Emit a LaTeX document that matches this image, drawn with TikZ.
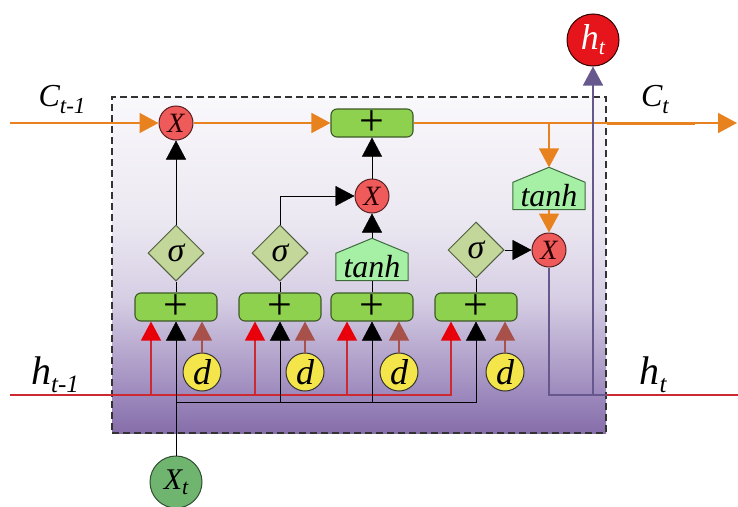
\documentclass[tikz,border=0pt]{standalone}
\usepackage{fontspec}
\setmainfont{Liberation Serif}
\usetikzlibrary{arrows.meta,shapes.geometric}

\pgfdeclarelayer{back}
\pgfdeclarelayer{mid}
\pgfsetlayers{back,mid,main}

\definecolor{flowor}{HTML}{E8821E}
\definecolor{hline}{HTML}{CC2A30}
\definecolor{hred}{HTML}{E8000A}
\definecolor{dbrown}{HTML}{A8504A}
\definecolor{outpur}{HTML}{66588C}
\definecolor{addfill}{HTML}{8ED14F}
\definecolor{adddraw}{HTML}{3D5A26}
\definecolor{mulfill}{HTML}{EF5B5B}
\definecolor{muldraw}{HTML}{5A2020}
\definecolor{sigfill}{HTML}{C4D79B}
\definecolor{sigdraw}{HTML}{4F5F3F}
\definecolor{tanfill}{HTML}{A6F0A6}
\definecolor{tandraw}{HTML}{3D6A3D}
\definecolor{dfill}{HTML}{F3E54A}
\definecolor{xfill}{HTML}{6FB56F}
\definecolor{xdraw}{HTML}{2F4F2F}
\definecolor{hfill}{HTML}{E6141B}
\definecolor{shB}{HTML}{866EAA}
\definecolor{shM1}{HTML}{9C88BC}
\definecolor{shM2}{HTML}{D6CEE4}
\definecolor{shM3}{HTML}{EBE7F1}
\definecolor{shT}{HTML}{F9F8FB}

% the path's box spans 25bp..75bp of the declared shading
\pgfdeclareverticalshading{cellshade}{100bp}{color(0bp)=(shB); color(25bp)=(shB); color(30.5bp)=(shM1); color(45bp)=(shM2); color(56bp)=(shM3); color(75bp)=(shT); color(100bp)=(shT)}

\newcommand\setfs[1]{\fontsize{#1}{#1}\selectfont}

\begin{document}
\begin{tikzpicture}[x=1pt,y=-1pt,line width=1.3pt,
  cellbox/.style={draw=black!80,dashed,dash pattern=on 7pt off 4pt,line width=1.2pt,shading=cellshade,
    minimum width=494pt,minimum height=336pt,inner sep=0pt},
  addnode/.style={draw=adddraw,fill=addfill,rounded corners=6pt,line width=1.1pt,
    minimum width=82pt,minimum height=28pt,inner sep=0pt,font=\setfs{44}},
  mulnode/.style={circle,draw=muldraw,fill=mulfill,line width=1pt,minimum size=34pt,inner sep=0pt,
    font=\setfs{28}\itshape,text=black!85!red},
  signode/.style={diamond,draw=sigdraw,fill=sigfill,line width=1pt,minimum width=56pt,minimum height=56pt,
    inner sep=0pt,font=\setfs{34}\itshape},
  tanhnode/.style={minimum width=72pt,minimum height=27pt,inner sep=0pt,font=\setfs{32}\itshape},
  housefill/.style={draw=tandraw,fill=tanfill,line width=1pt},
  dnode/.style={circle,draw=black!80,fill=dfill,line width=1pt,minimum size=38pt,inner sep=0pt,
    font=\setfs{36}\itshape},
  xnode/.style={circle,draw=xdraw,fill=xfill,line width=1pt,minimum size=52pt,inner sep=0pt,
    font=\setfs{30}\itshape},
  hnode/.style={circle,draw=black!80!red,fill=hfill,line width=1pt,minimum size=52pt,inner sep=0pt,
    font=\setfs{36}\itshape,text=white},
  lbl/.style={inner sep=0pt,font=\itshape},
  tip/.style={-{Triangle[width=20pt,length=19pt]}},
  blk/.style={draw=black},
  blkarr/.style={blk,tip},
  orline/.style={draw=flowor,line width=1.6pt},
  orarr/.style={orline,-{Triangle[width=20pt,length=19pt]}},
  redline/.style={draw=hline,line width=1.3pt},
  redarr/.style={redline,-{Triangle[width=20pt,length=19pt,color=hred]}},
  brarr/.style={draw=dbrown,line width=1.3pt,-{Triangle[width=20pt,length=19pt]}},
  purline/.style={draw=outpur,line width=1.3pt},
  purarr/.style={purline,-{Triangle[width=20pt,length=19pt]}}
]
\useasboundingbox (0,0) rectangle (738,506);

% cell background
\begin{pgfonlayer}{back}
\node[cellbox] (cell) at (359,265) {};
\end{pgfonlayer}

% free ends of the state lines
\coordinate (cin) at (10,123);
\coordinate (cout) at (737,123);
\coordinate (hin) at (10,395);
\coordinate (hout) at (738,395);
\coordinate (xbus) at (0,402);

% cell state path
\node[mulnode] (mf) at (176,123) {X};
\node[addnode] (ac) at (372,123) {+};

% candidate and input gate
\node[mulnode] (mi) at (372,196) {X};
\node[tanhnode] (t1) at (372,267) {tanh};

% output branch
\node[tanhnode] (t2) at (549,196) {tanh};
\node[mulnode] (mo) at (549,250) {X};

% house outlines behind the tanh texts
\begin{pgfonlayer}{mid}
\foreach \t in {t1,t2}{
  \path[housefill] (\t.south west) -- (\t.north west) -- ([yshift=15pt]\t.north) -- (\t.north east)
    -- (\t.south east) -- cycle;
}
\end{pgfonlayer}

% sigma gates
\node[signode] (s1) at (176,253) {σ};
\node[signode] (s2) at (280,253) {σ};
\node[signode] (s4) at (476,250) {σ};

% summation boxes
\node[addnode] (b1) at (176,307) {+};
\node[addnode] (b2) at (280,307) {+};
\node[addnode] (b3) at (372,307) {+};
\node[addnode] (b4) at (476,307) {+};

% bias inputs
\node[dnode] (d1) at (202,372) {d};
\node[dnode] (d2) at (305,372) {d};
\node[dnode] (d3) at (399,372) {d};
\node[dnode] (d4) at (505,372) {d};

% input and output circles
\node[xnode] (xt) at (176,482) {X\raisebox{-5pt}{\setfs{22}t}};
\node[hnode] (ht) at (593,40) {h\raisebox{-5pt}{\setfs{22}t}};

% line labels
\node[lbl] (lc0) at (62,100) {\setfs{32}C\raisebox{-7pt}{\setfs{23}t-1}};
\node[lbl] (lc1) at (655,100) {\setfs{32}C\raisebox{-7pt}{\setfs{23}t}};
\node[lbl] (lh0) at (55,375) {\setfs{40}h\raisebox{-8pt}{\setfs{25}t-1}};
\node[lbl] (lh1) at (653,375) {\setfs{40}h\raisebox{-8pt}{\setfs{25}t}};

% cell state line
\draw[orarr] (cin) -- (mf);
\draw[orarr] (mf) -- (ac);
\draw[orarr] (ac) -- (cout);
\draw[draw=flowor,line width=3pt] (cell.east |- cout) -- ([xshift=-42pt]cout);
\draw[orarr] (mo |- ac.east) -- ([yshift=15pt]t2.north);
\draw[orarr] (t2) -- (mo);

% gate outputs
\draw[blkarr] (s1) -- (mf);
\draw[blkarr] (s2.north) |- (mi);
\draw[blkarr] ([yshift=15pt]t1.north) -- (mi);
\draw[blkarr] (mi) -- (ac);
\draw[blkarr] (s4) -- (mo);
\draw[blk] (b1) -- (s1);
\draw[blk] (b2) -- (s2);
\draw[blk] (b3) -- (t1);
\draw[blk] (b4) -- (s4);

% previous hidden state into every gate
\draw[redarr] (hin) -| ([xshift=-25pt]b4.south);
\foreach \b in {b1,b2,b3}{
  \draw[redarr] ([xshift=-25pt]\b.south |- hin) -- ([xshift=-25pt]\b.south);
}

% current input into every gate
\draw[blkarr] (xt) -- (b1);
\draw[blkarr] (xt |- xbus) -| (b4.south);
\foreach \b in {b2,b3}{
  \draw[blkarr] (\b.south |- xbus) -- (\b.south);
}

% biases
\foreach \i in {1,2,3,4}{
  \draw[brarr] (d\i) -- (d\i |- b\i.south);
}

% hidden state output
\draw[purline] (mo) |- (cell.east |- hin);
\draw[redline] (cell.east |- hin) -- (hout);
\draw[purarr] (ht |- hin) -- (ht);

\end{tikzpicture}
\end{document}
